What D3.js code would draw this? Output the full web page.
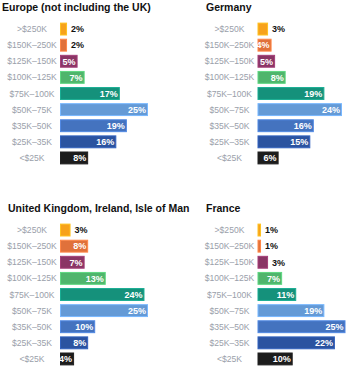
<!DOCTYPE html>
<html>
<head>
<meta charset="utf-8">
<script src="https://cdn.jsdelivr.net/npm/d3@7"></script>
<style>
  body { margin: 0; background: #fff; }
  svg { font-family: "Liberation Sans", Arial, sans-serif; }
</style>
</head>
<body>
<div id="chart"></div>
<script>
var categories = ['>$250K', '$150K–250K', '$125K–150K', '$100K–125K', '$75K–100K', '$50K–75K', '$35K–50K', '$25K–35K', '<$25K'];
var titles = ['Europe (not including the UK)', 'Germany', 'United Kingdom, Ireland, Isle of Man', 'France'];
var europeValues = [2, 2, 5, 7, 17, 25, 19, 16, 8];
var germanyValues = [3, 4, 5, 8, 19, 24, 16, 15, 6];
var ukValues = [3, 8, 7, 13, 24, 25, 10, 8, 4];
var franceValues = [1, 1, 3, 7, 11, 19, 25, 22, 10];
var colors = ['#f7a21b', '#e0713b', '#8a3565', '#4fb56c', '#15917b', '#649ad6', '#4473bf', '#2b53a0', '#1c1c1c'];

var width = 349, height = 370;

var svg = d3.select('#chart')
    .append('svg')
    .attr('width', width)
    .attr('height', height);

// panel layout: bar start x, vertical offset
var panels = [
    { title: titles[0], values: europeValues, x0: 60, dy: 0, tx: 2 },
    { title: titles[1], values: germanyValues, x0: 257.5, dy: 0, tx: 206 },
    { title: titles[2], values: ukValues, x0: 60, dy: 201, tx: 8 },
    { title: titles[3], values: franceValues, x0: 257.5, dy: 201, tx: 206 }
];

var xscale = d3.scaleLinear().domain([0, 25]).range([0, 88]);
var yscale = d3.scaleBand()
    .domain(categories)
    .range([21, 166])
    .paddingInner(0.2)
    .paddingOuter(0.1);

panels.forEach(function(p) {
    var g = svg.append('g').attr('transform', 'translate(0,' + p.dy + ')');

    g.append('text')
        .attr('x', p.tx)
        .attr('y', 11)
        .attr('font-size', 10.5)
        .attr('font-weight', 600)
        .attr('fill', '#111')
        .text(p.title);

    var rows = categories.map(function(c, i) {
        return { cat: c, value: p.values[i], color: colors[i] };
    });

    // category labels
    g.selectAll('text.cat')
        .data(rows)
        .enter()
        .append('text')
        .attr('class', 'cat')
        .attr('x', p.x0 - 28)
        .attr('y', d => yscale(d.cat) + yscale.bandwidth() / 2)
        .attr('dy', '0.35em')
        .attr('text-anchor', 'middle')
        .attr('font-size', 8.6)
        .attr('fill', '#9aa0aa')
        .text(d => d.cat);

    g.selectAll('rect')
        .data(rows)
        .enter()
        .append('rect')
        .attr('x', p.x0 + 0.5)
        .attr('y', d => yscale(d.cat) + 0.5)
        .attr('width', d => Math.max(xscale(d.value) - 1, 1))
        .attr('height', yscale.bandwidth() - 1)
        .attr('fill', d => d.color)
        .attr('stroke', d => d3.color(d.color).brighter(0.5))
        .attr('stroke-width', 1);

    // value labels, inside when the bar is wide enough
    g.selectAll('text.val')
        .data(rows)
        .enter()
        .append('text')
        .attr('class', 'val')
        .attr('x', d => d.value >= 4 ? p.x0 + xscale(d.value) - 2 : p.x0 + xscale(d.value) + 4)
        .attr('y', d => yscale(d.cat) + yscale.bandwidth() / 2)
        .attr('dy', '0.36em')
        .attr('text-anchor', d => d.value >= 4 ? 'end' : 'start')
        .attr('font-size', 9)
        .attr('font-weight', 'bold')
        .attr('fill', d => d.value >= 4 ? '#fff' : '#111')
        .text(d => d.value + '%');
});
</script>
</body>
</html>
